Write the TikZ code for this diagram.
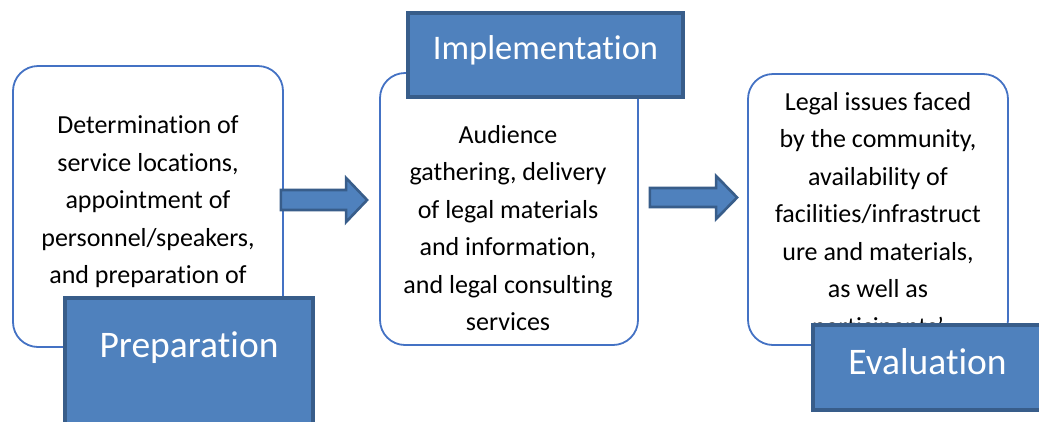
\documentclass[tikz,border=0pt]{standalone}
\usepackage{fontspec}
\setmainfont[Ligatures=NoCommon]{Carlito}
\usetikzlibrary{calc}
\definecolor{rbord}{RGB}{68,114,196}
\definecolor{lfill}{RGB}{79,129,189}
\definecolor{lbord}{RGB}{56,93,138}
\tikzset{
  rbox/.style={draw=rbord, line width=1.8pt, rounded corners=25pt, fill=white, inner sep=0pt},
  lbox/.style={draw=lbord, line width=3.2pt, fill=lfill, inner sep=0pt},
  lbltxt/.style={text=white, font=\fontsize{34.5}{40}\selectfont, inner sep=0pt},
  biglbltxt/.style={text=white, font=\fontsize{37.5}{44}\selectfont, inner sep=0pt},
  bodytxt/.style={text=black, align=center, font=\fontsize{26}{37.5}\selectfont, inner sep=0pt},
  blk/.style={draw=lbord, line width=2.6pt, fill=lfill, line join=miter}
}
\begin{document}
\begin{tikzpicture}[x=1pt,y=-1pt]
\useasboundingbox (0,0) rectangle (1039,421);
\fill[white] (0,0) rectangle (1039,421);

% Box 1 and Preparation
\node[rbox, minimum width=270pt, minimum height=281pt] (b1) at (148,206.5) {};
\begin{scope}
\clip[rounded corners=25pt] (13,66) rectangle (283,347);
\node[bodytxt] (t1) at (148,202) {Determination of\\service locations,\\appointment of\\personnel/speakers,\\and preparation of};
\end{scope}
\node[lbox, minimum width=248pt, minimum height=150pt] (prep) at (189,373) {};
\node[biglbltxt] (prept) at (189,348) {Preparation};

% Box 2 and Implementation
\node[rbox, minimum width=258pt, minimum height=272pt] (b2) at (509,209) {};
\node[bodytxt] (t2) at (508,228) {Audience\\gathering, delivery\\of legal materials\\and information,\\and legal consulting\\services};
\node[lbox, minimum width=275pt, minimum height=84pt] (impl) at (545.5,55) {};
\node[lbltxt] (implt) at (545.5,50) {Implementation};

% Box 3 and Evaluation
\node[rbox, minimum width=260pt, minimum height=271pt] (b3) at (878,209.5) {};
\begin{scope}
\clip[rounded corners=25pt] (748,74) rectangle (1008,345);
\node[bodytxt] (t3) at (878,216) {Legal issues faced\\by the community,\\availability of\\facilities/infrastruct\\ure and materials,\\as well as\\participants'};
\end{scope}
\node[lbox, minimum width=240pt, minimum height=85pt] (eval) at (933,367.5) {};
\node[biglbltxt] (evalt) at (927.5,362) {Evaluation};

% Arrows
\coordinate (a1s) at ($(b1.east)+(-3,-6.5)$);
\coordinate (a1e) at ($(b2.west)+(-12,-9)$);
\draw[blk] ($(a1s)+(0,-10)$) -- ($(a1e)+(-21,-10)$) -- ($(a1e)+(-21,-22)$) -- (a1e)
  -- ($(a1e)+(-21,22)$) -- ($(a1e)+(-21,10)$) -- ($(a1s)+(0,10)$) -- cycle;
\coordinate (a2s) at ($(b2.east)+(11,-11.5)$);
\coordinate (a2e) at ($(b3.west)+(-10,-12)$);
\draw[blk] ($(a2s)+(0,-9.5)$) -- ($(a2e)+(-21,-9.5)$) -- ($(a2e)+(-21,-21.5)$) -- (a2e)
  -- ($(a2e)+(-21,21.5)$) -- ($(a2e)+(-21,9.5)$) -- ($(a2s)+(0,9.5)$) -- cycle;
\end{tikzpicture}
\end{document}
